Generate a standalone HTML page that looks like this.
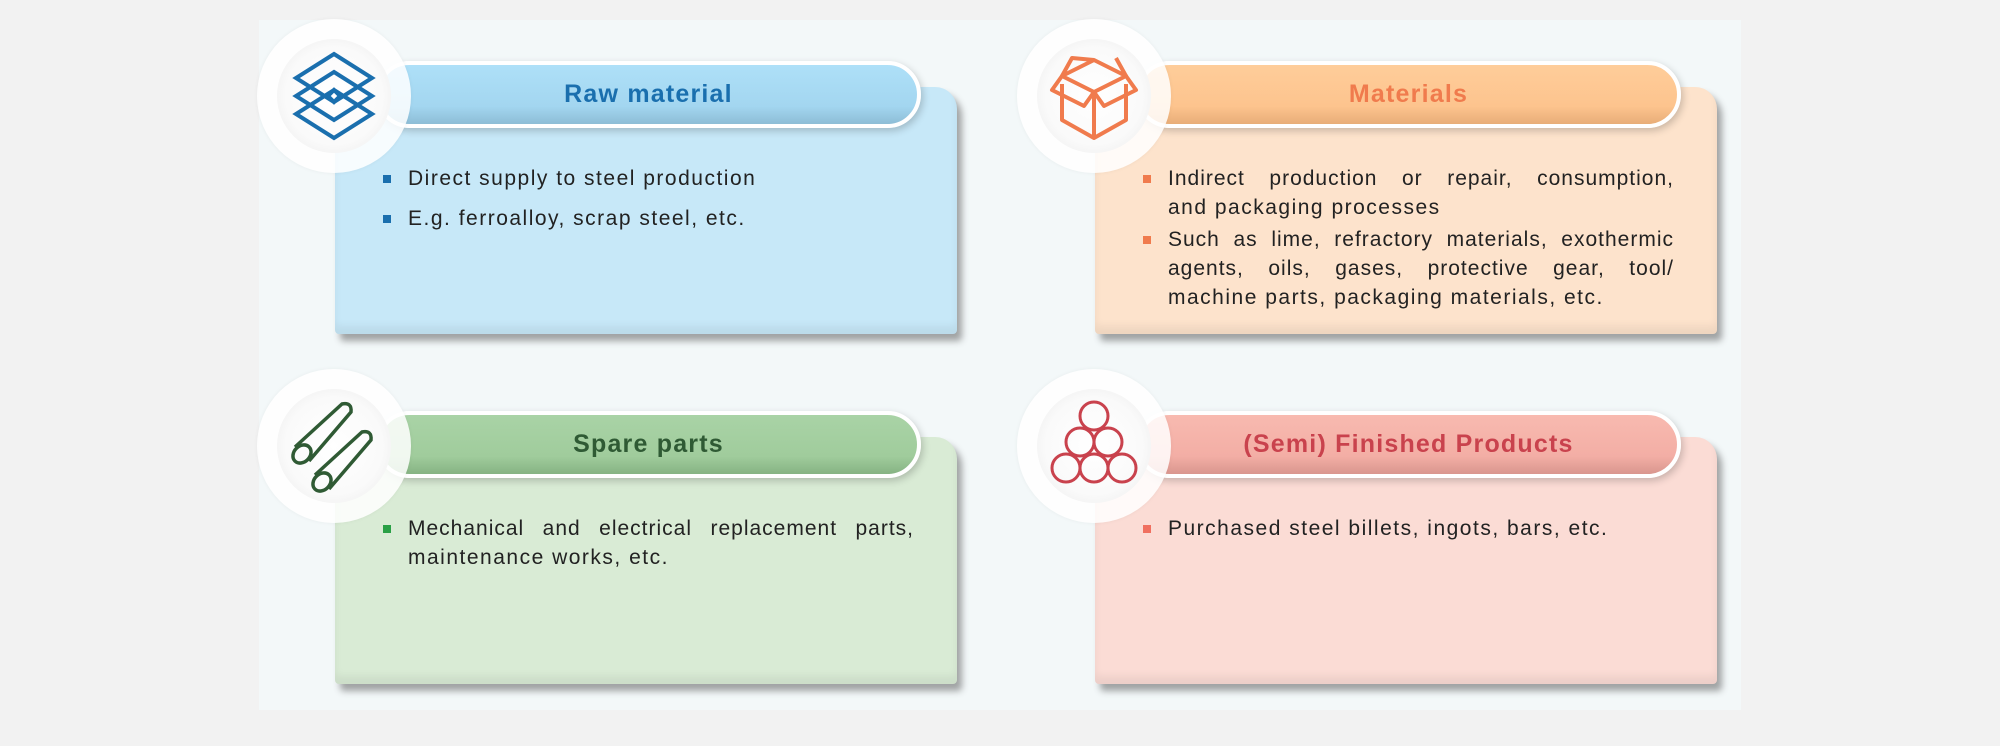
<!DOCTYPE html>
<html><head><meta charset="utf-8"><style>
*{margin:0;padding:0;box-sizing:border-box}
body{width:2000px;height:737px;background:#f2f2f2;position:relative;overflow:hidden;font-family:"Liberation Sans",sans-serif}
.panel{position:absolute;left:259px;top:20px;width:1482px;height:690px;background:#f3f8f9}
.card{position:absolute;width:700px;height:300px}
.bd{position:absolute;left:1px;top:-9px;width:622px;height:247px;border-radius:4px 22px 4px 4px;box-shadow:5px 7px 7px rgba(60,60,60,.45), inset 0 -8px 8px rgba(0,0,0,.06)}
.hd{position:absolute;left:42px;top:-35px;width:545px;height:67px;border-radius:34px;border:4px solid #fff;box-shadow:2px 3px 8px rgba(0,0,0,.2);text-align:center;font-weight:bold;font-size:25px;line-height:59px;letter-spacing:1.2px;padding-left:0}
.circ{position:absolute;left:-77px;top:-77px;width:154px;height:154px;border-radius:50%;background:rgba(255,255,255,.85);box-shadow:0 0 4px rgba(0,0,0,.05)}
.circ .in{position:absolute;left:20px;top:20px;width:114px;height:114px;border-radius:50%;background:radial-gradient(circle,#fff 0%,#fafafa 60%,#e8e8e8 100%)}
.circ svg{position:absolute;left:27px;top:27px}
.ln{position:absolute;left:74px;font-size:21px;color:#222;letter-spacing:1.5px;white-space:nowrap;line-height:29px}
.j{text-align:justify;text-align-last:justify;width:506px;letter-spacing:1px}
.sq{position:absolute;left:49px;width:8px;height:8px}
</style></head><body>
<div class="panel"></div>

<!-- Card 1 -->
<div class="card" style="left:334px;top:96px">
  <div class="bd" style="background:#c7e8f8"></div>
  <div class="hd" style="background:linear-gradient(#aee0f8,#a3d6f0 70%,#8dbdd6);color:#1a6fae">Raw material</div>
  <div class="circ"><div class="in"></div>
    <svg width="100" height="100" viewBox="0 0 100 100" fill="none" stroke="#1a6fae" stroke-width="4">
      <path d="M50 8 L88 32 L50 56 L12 32 Z"/><path d="M50 26 L88 50 L50 74 L12 50 Z"/><path d="M50 44 L88 68 L50 92 L12 68 Z"/><path d="M50 44 L56 50 L50 56 L44 50Z"/>
    </svg></div>
  <div class="sq" style="top:79px;background:#1a6fae"></div>
  <div class="ln" style="top:68px">Direct supply to steel production</div>
  <div class="sq" style="top:119px;background:#1a6fae"></div>
  <div class="ln" style="top:108px">E.g. ferroalloy, scrap steel, etc.</div>
</div>

<!-- Card 2 -->
<div class="card" style="left:1094px;top:96px">
  <div class="bd" style="background:#fde3cc"></div>
  <div class="hd" style="background:linear-gradient(#fecd9a,#fdc48e 70%,#e8ad78);color:#f07b4d">Materials</div>
  <div class="circ"><div class="in"></div>
    <svg width="100" height="100" viewBox="0 0 100 100" fill="none" stroke="#f07b4d" stroke-width="4" stroke-linejoin="round">
      <path d="M18 30 L50 14 L82 30 L50 46 Z"/><path d="M18 30 L8 44 L40 60 L50 46"/><path d="M82 30 L92 44 L60 60 L50 46"/><path d="M18 38 L18 74 L50 92 L82 74 L82 38"/><path d="M50 46 L50 92"/><path d="M18 30 L28 12 L50 14"/><path d="M82 30 L72 12"/>
    </svg></div>
  <div class="sq" style="top:79px;background:#f07b4d"></div>
  <div class="ln j" style="top:68px">Indirect production or repair, consumption,</div>
  <div class="ln" style="top:97px">and packaging processes</div>
  <div class="sq" style="top:140px;background:#f07b4d"></div>
  <div class="ln j" style="top:129px">Such as lime, refractory materials, exothermic</div>
  <div class="ln j" style="top:158px">agents, oils, gases, protective gear, tool/</div>
  <div class="ln" style="top:187px">machine parts, packaging materials, etc.</div>
</div>

<!-- Card 3 -->
<div class="card" style="left:334px;top:446px">
  <div class="bd" style="background:#d9ebd5"></div>
  <div class="hd" style="background:linear-gradient(#a9d3a6,#a0cc9c 70%,#86b383);color:#2f5a34">Spare parts</div>
  <div class="circ"><div class="in"></div>
    <svg width="100" height="100" viewBox="0 0 100 100" fill="none" stroke="#2f5a34" stroke-width="3.5">
      <ellipse cx="18" cy="58" rx="10" ry="8" transform="rotate(-45 18 58)"/><path d="M11 51 L58 8 Q68 6 67 16 L25 65"/>
      <ellipse cx="38" cy="86" rx="10" ry="8" transform="rotate(-45 38 86)"/><path d="M31 79 L78 36 Q88 34 87 44 L45 93"/>
    </svg></div>
  <div class="sq" style="top:79px;background:#2aa046"></div>
  <div class="ln j" style="top:68px">Mechanical and electrical replacement parts,</div>
  <div class="ln" style="top:97px">maintenance works, etc.</div>
</div>

<!-- Card 4 -->
<div class="card" style="left:1094px;top:446px">
  <div class="bd" style="background:#fbdcd5"></div>
  <div class="hd" style="background:linear-gradient(#f8bab0,#f3aea5 70%,#d9968e);color:#c9424d">(Semi) Finished Products</div>
  <div class="circ"><div class="in"></div>
    <svg width="100" height="100" viewBox="0 0 100 100" fill="none" stroke="#c9424d" stroke-width="3">
      <circle cx="50" cy="20" r="14"/><circle cx="36" cy="46" r="14"/><circle cx="64" cy="46" r="14"/><circle cx="22" cy="72" r="14"/><circle cx="50" cy="72" r="14"/><circle cx="78" cy="72" r="14"/>
    </svg></div>
  <div class="sq" style="top:79px;background:#f07060"></div>
  <div class="ln" style="top:68px">Purchased steel billets, ingots, bars, etc.</div>
</div>
</body></html>
